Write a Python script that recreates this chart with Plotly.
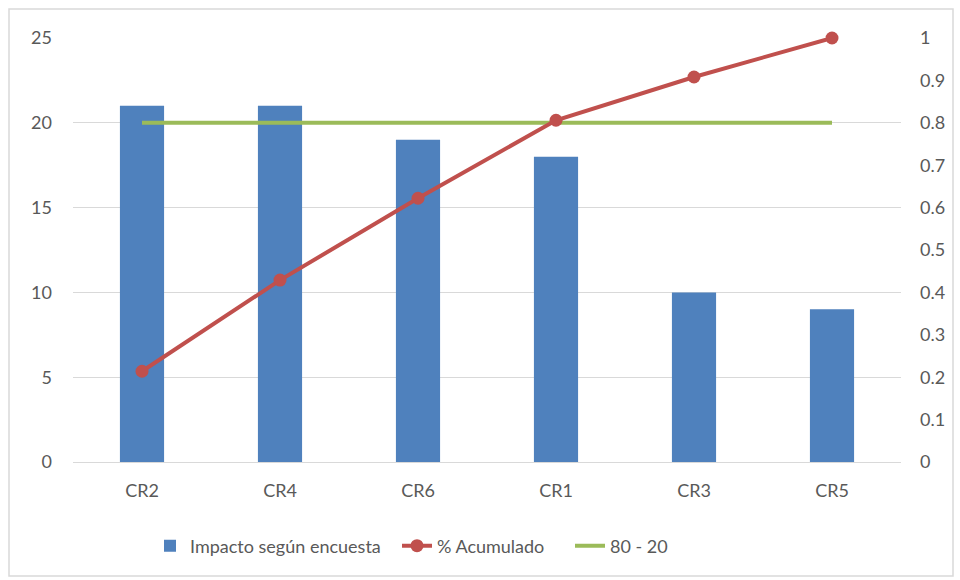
import plotly.graph_objects as go

categories = ["CR2", "CR4", "CR6", "CR1", "CR3", "CR5"]
impacto = [21, 21, 19, 18, 10, 9]
acumulado = [0.214, 0.429, 0.622, 0.806, 0.908, 1.0]
linea_80_20 = [0.8, 0.8, 0.8, 0.8, 0.8, 0.8]

left_ticks = [0, 5, 10, 15, 20, 25]
right_ticks = [0, 0.1, 0.2, 0.3, 0.4, 0.5, 0.6, 0.7, 0.8, 0.9, 1]

FONT = "Lato"
FS = 18
TXT = "#595959"
GRID = "#d9d9d9"

fig = go.Figure()

fig.add_trace(go.Bar(
    x=categories, y=impacto, name="Impacto según encuesta",
    marker=dict(color="#4f81bd", line=dict(width=0)),
    width=0.32, yaxis="y", legend="legend",
))
fig.add_trace(go.Scatter(
    x=categories, y=linea_80_20, name="80 - 20", mode="lines",
    line=dict(color="#9bbb59", width=4), yaxis="y2", legend="legend3",
    cliponaxis=False,
))
fig.add_trace(go.Scatter(
    x=categories, y=acumulado, name="% Acumulado", mode="lines+markers",
    line=dict(color="#c0504d", width=4),
    marker=dict(color="#c0504d", size=13),
    yaxis="y2", legend="legend2", cliponaxis=False,
))

W, H = 960, 580
L, R, T, B = 73, 59, 38, 118
pw, ph = W - L - R, H - T - B


def px_x(x):
    return (x - L) / pw


def px_y(y):
    return (H - B - y) / ph


def legend_at(xpx):
    return dict(
        orientation="h", x=px_x(xpx), xanchor="left", y=px_y(546), yanchor="middle",
        font=dict(family=FONT, size=FS, color=TXT), bgcolor="rgba(0,0,0,0)",
    )


fig.update_layout(
    width=W, height=H,
    margin=dict(l=L, r=R, t=T, b=B),
    paper_bgcolor="white", plot_bgcolor="white",
    font=dict(family=FONT, size=FS, color=TXT),
    bargap=0.68,
    showlegend=True,
    legend=legend_at(150),
    legend2=legend_at(397),
    legend3=legend_at(570),
    xaxis=dict(
        type="category", showgrid=False, showline=True, linecolor=GRID, linewidth=1,
        ticks="", ticklabelstandoff=12, tickfont=dict(size=FS, color=TXT),
    ),
    yaxis=dict(
        range=[0, 25], tickvals=left_ticks, showgrid=True, gridcolor=GRID, gridwidth=1,
        zeroline=False, showline=False, ticks="", ticklabelstandoff=20,
        tickfont=dict(size=FS, color=TXT),
    ),
    yaxis2=dict(
        range=[0, 1], tickvals=right_ticks, overlaying="y", side="right",
        showgrid=False, zeroline=False, showline=False, ticks="", ticklabelstandoff=18,
        tickfont=dict(size=FS, color=TXT),
    ),
    shapes=[dict(
        type="rect", xref="paper", yref="paper",
        x0=px_x(9), x1=px_x(953), y0=px_y(576), y1=px_y(9),
        line=dict(color="#d9d9d9", width=1.5), fillcolor="rgba(0,0,0,0)", layer="below",
    )],
)

fig.write_html("out.html")
